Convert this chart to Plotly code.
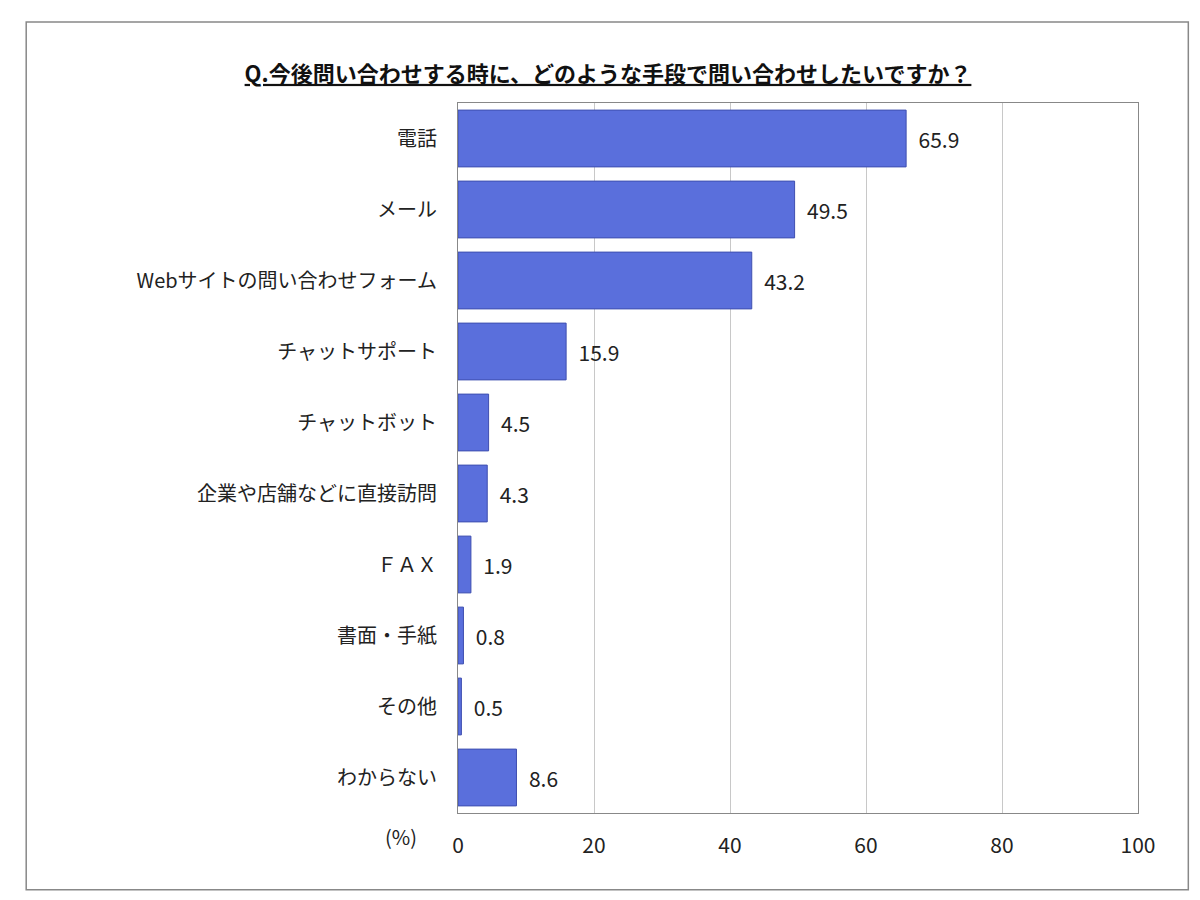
import plotly.graph_objects as go

categories = ["電話", "メール", "Webサイトの問い合わせフォーム", "チャットサポート", "チャットボット",
              "企業や店舗などに直接訪問", "ＦＡＸ", "書面・手紙", "その他", "わからない"]
values = [65.9, 49.5, 43.2, 15.9, 4.5, 4.3, 1.9, 0.8, 0.5, 8.6]
title = "Q.今後問い合わせする時に、どのような手段で問い合わせしたいですか？"

font = "Noto Sans CJK JP"

fig = go.Figure(go.Bar(
    x=values, y=categories, orientation="h",
    marker=dict(color="#5a6fdc", line=dict(color="#3f4fb0", width=1)),
    text=[f"  {v:.1f}" for v in values], textposition="outside",
    textfont=dict(size=21, color="#222"), cliponaxis=False,
))

fig.update_layout(
    width=1200, height=900, plot_bgcolor="white", paper_bgcolor="white",
    margin=dict(l=450, r=70, t=95, b=95),
    bargap=0.2, showlegend=False,
    font=dict(family=font, color="#222"),
    title=dict(text=f"<b><u>{title}</u></b>", x=0.5, xanchor="center", y=0.935,
               font=dict(size=22, color="#111")),
    shapes=[dict(type="rect", xref="paper", yref="paper", x0=-0.635, x1=1.074, y0=-0.108, y1=1.114,
                 line=dict(color="#888", width=1.5))],
    annotations=[dict(text="(%)", xref="paper", yref="paper", x=-0.11, y=-0.056,
                      showarrow=False, font=dict(size=20))],
)
fig.update_xaxes(range=[0, 100], dtick=20, showgrid=True, gridcolor="#c8c8c8",
                 showline=True, linecolor="#888", mirror=True,
                 ticks="outside", ticklen=14, tickcolor="rgba(0,0,0,0)",
                 tickfont=dict(size=21), zeroline=False)
fig.update_yaxes(autorange="reversed", showline=True, linecolor="#888", mirror=True,
                 ticks="outside", ticklen=16, tickcolor="rgba(0,0,0,0)",
                 tickfont=dict(size=20))

fig.write_html("out.html")
